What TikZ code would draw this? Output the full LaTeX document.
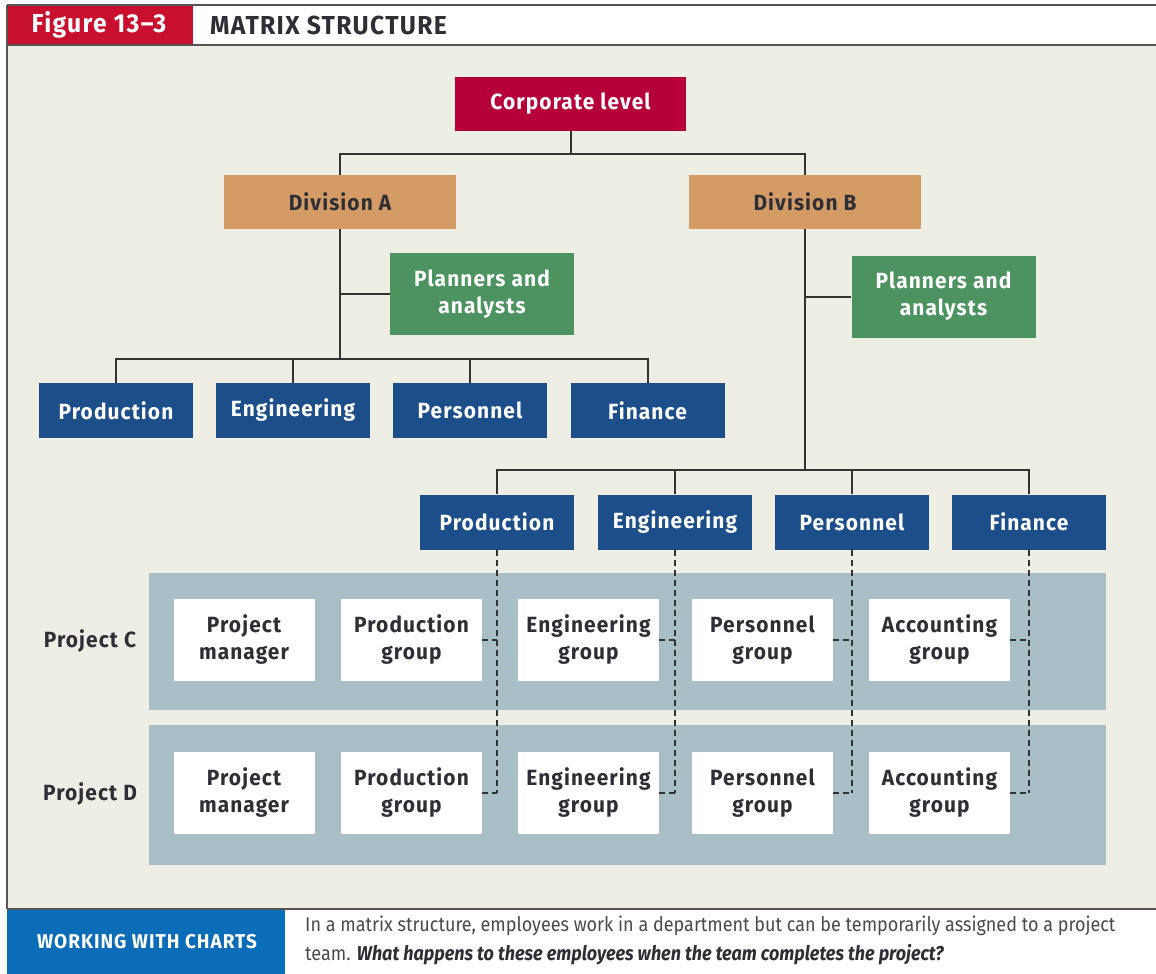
\documentclass[tikz,border=0pt]{standalone}
\usepackage{fontspec}
\setmainfont{Fira Sans}[FakeStretch=0.95, LetterSpace=5]
\newfontfamily\capfont{Fira Sans}[FakeStretch=0.9]
\definecolor{hdrred}{HTML}{C8102E}
\definecolor{corpred}{HTML}{B5003A}
\definecolor{panel}{HTML}{EFEEE4}
\definecolor{tan}{HTML}{D49C64}
\definecolor{planner}{HTML}{4C9360}
\definecolor{navy}{HTML}{1C4E89}
\definecolor{band}{HTML}{A7BFC5}
\definecolor{banner}{HTML}{0B6CB8}
\definecolor{ink}{HTML}{2E2F36}
\definecolor{captext}{HTML}{4A4A4E}
\definecolor{rule}{HTML}{555555}
\definecolor{wire}{HTML}{333333}
\tikzset{
  box/.style={inner sep=0pt, align=center, font=\bfseries\fontsize{22}{27}\selectfont},
  corpbox/.style={box, fill=corpred, text=white, minimum width=231pt, minimum height=54pt},
  divbox/.style={box, fill=tan, text=ink, minimum width=232pt, minimum height=54pt},
  planbox/.style={box, fill=planner, text=white, minimum width=184pt, minimum height=82pt},
  deptbox/.style={box, fill=navy, text=white, minimum width=154pt, minimum height=55pt},
  groupbox/.style={box, fill=white, text=ink, minimum width=141pt, minimum height=82pt},
  projlabel/.style={inner sep=0pt, text=ink, font=\bfseries\fontsize{22}{27}\selectfont},
  captionline/.style={inner sep=0pt, anchor=west, text=captext, font=\capfont\fontsize{20}{24}\selectfont},
  wireline/.style={draw=wire, line width=2pt},
  dashline/.style={draw=wire, line width=2pt, dash pattern=on 6pt off 4pt},
}
\begin{document}
\begin{tikzpicture}[x=1pt, y=-1pt]
\useasboundingbox (0,0) rectangle (1156,974);
\fill[white] (0,0) rectangle (1156,974);
% panel and frame
\fill[panel] (7,45) rectangle (1156,909);
\fill[hdrred] (7,5) rectangle (193,45);
\draw[rule, line width=2pt] (7,5) -- (1156,5);
\draw[rule, line width=2pt] (7,45) -- (1156,45);
\draw[rule, line width=2pt] (7,5) -- (7,909);
\draw[rule, line width=2pt] (7,909) -- (1156,909);
\node[inner sep=0pt, text=white, font=\bfseries\fontsize{26}{30}\selectfont] (fignum) at (99,25) {Figure 13–3};
\node[inner sep=0pt, anchor=west, text=ink, font=\bfseries\fontsize{26}{30}\selectfont] (figtitle) at (210,25) {MATRIX STRUCTURE};

% bottom banner
\fill[banner] (7,910) rectangle (285,974);
\node[inner sep=0pt, text=white, font=\bfseries\fontsize{20}{24}\selectfont] (wwc) at (147,942) {WORKING WITH CHARTS};
\node[captionline] (cap1) at (305,926)
  {In a matrix structure, employees work in a department but can be temporarily assigned to a project};
\node[captionline] (cap2) at (305,955)
  {team. \textcolor{ink}{\bfseries\itshape What happens to these employees when the team completes the project?}};

% project bands
\fill[band] (149,573) rectangle (1106,710);
\fill[band] (149,725) rectangle (1106,865);

% hierarchy
\node[corpbox] (corp) at (570.5,104) {Corporate level};
\node[divbox] (divA) at (340,202) {Division A};
\node[divbox] (divB) at (805,202) {Division B};
\node[planbox] (planA) at (482,294) {Planners and\\analysts};
\node[planbox] (planB) at (943.5,296.5) {Planners and\\analysts};

\node[deptbox] (a1) at (116,410.5) {Production};
\node[deptbox] (a2) at (293,410.5) {Engineering};
\node[deptbox] (a3) at (470,410.5) {Personnel};
\node[deptbox] (a4) at (647.5,410.5) {Finance};

\node[deptbox] (b1) at (497,522) {Production};
\node[deptbox] (b2) at (675,522) {Engineering};
\node[deptbox] (b3) at (852,522) {Personnel};
\node[deptbox] (b4) at (1029,522) {Finance};

% project rows
\node[projlabel] (projC) at (90,641) {Project C};
\node[projlabel] (projD) at (90,794) {Project D};
\foreach \r/\yy in {c/640, d/793} {
  \node[groupbox] (\r0) at (244,\yy) {Project\\manager};
  \node[groupbox] (\r1) at (411.5,\yy) {Production\\group};
  \node[groupbox] (\r2) at (588.5,\yy) {Engineering\\group};
  \node[groupbox] (\r3) at (762.5,\yy) {Personnel\\group};
  \node[groupbox] (\r4) at (939.5,\yy) {Accounting\\group};
}

% solid reporting lines
\coordinate (jc) at (570.5,154);
\coordinate (ja) at (340,359);
\coordinate (jb) at (805,470);
\draw[wireline] (corp.south) -- (jc);
\draw[wireline] (divA.north) |- (jc) -| (divB.north);
\draw[wireline] (divA.south) -- (ja);
\draw[wireline] (planA.west) -- (planA.west -| divA.south);
\draw[wireline] (a1.north) |- (ja) -| (a4.north);
\draw[wireline] (a2.north) -- (a2.north |- ja);
\draw[wireline] (a3.north) -- (a3.north |- ja);
\draw[wireline] (divB.south) -- (jb);
\draw[wireline] (planB.west) -- (planB.west -| divB.south);
\draw[wireline] (b1.north) |- (jb) -| (b4.north);
\draw[wireline] (b2.north) -- (b2.north |- jb);
\draw[wireline] (b3.north) -- (b3.north |- jb);

% dashed temporary assignments
\foreach \i in {1,2,3,4} {
  \draw[dashline] (b\i.south) -- (b\i.south |- d\i.east);
  \draw[dashline] (c\i.east) -- (c\i.east -| b\i.south);
  \draw[dashline] (d\i.east) -- (d\i.east -| b\i.south);
}
\end{tikzpicture}
\end{document}
